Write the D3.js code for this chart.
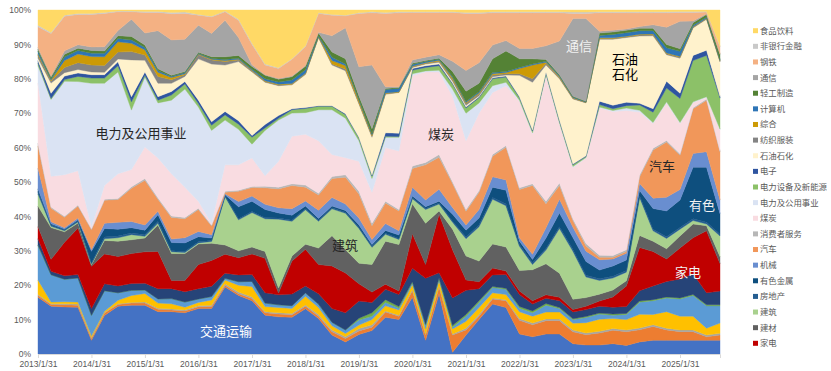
<!DOCTYPE html>
<html><head><meta charset="utf-8">
<script src="https://cdn.jsdelivr.net/npm/d3@7"></script>
<style>
body{margin:0;background:#fff;}
svg{display:block;font-family:"Liberation Sans","Noto Sans CJK SC",sans-serif;}
</style>
</head><body>
<svg id="chart" width="831" height="371"></svg>
<script>
// ---------------- DATA ----------------
const dates = [
"2013-01-31","2013-04-30","2013-07-31","2013-10-31","2014-01-31","2014-04-30","2014-07-31","2014-10-31",
"2015-01-31","2015-04-30","2015-07-31","2015-10-31","2016-01-31","2016-04-30","2016-07-31","2016-10-31",
"2017-01-31","2017-04-30","2017-07-31","2017-10-31","2018-01-31","2018-04-30","2018-07-31","2018-10-31",
"2019-01-31","2019-04-30","2019-07-31","2019-10-31","2020-01-31","2020-04-30","2020-07-31","2020-10-31",
"2021-01-31","2021-04-30","2021-07-31","2021-10-31","2022-01-31","2022-04-30","2022-07-31","2022-10-31",
"2023-01-31","2023-04-30","2023-07-31","2023-10-31","2024-01-31","2024-04-30","2024-07-31","2024-10-31",
"2025-01-31","2025-04-30","2025-07-31","2025-10-31"];

const xTickDates = ["2013-01-31","2014-01-31","2015-01-31","2016-01-31","2017-01-31","2018-01-31","2019-01-31",
"2020-01-31","2021-01-31","2022-01-31","2023-01-31","2024-01-31","2025-01-31"];
const xTickLabels = ["2013/1/31","2014/1/31","2015/1/31","2016/1/31","2017/1/31","2018/1/31","2019/1/31",
"2020/1/31","2021/1/31","2022/1/31","2023/1/31","2024/1/31","2025/1/31"];
const yTicks = [0,0.1,0.2,0.3,0.4,0.5,0.6,0.7,0.8,0.9,1];

// series, bottom of the stack first (values in %)
const transport = [16.5,14,13.6,13.6,4,11.2,14,14.2,14.2,12.3,12.3,12,13.2,13.2,19.5,17,15.5,11.3,10.8,10.8,13.2,10.3,5.5,3.5,5.7,6.8,10.7,10,16.5,4,17.5,0.5,5.5,10,14.5,13.5,5.8,5,5.8,5.8,3,2.6,2.6,3,2.5,3.5,4,4,4,4,4,4];
const agri = [0.5,0.5,0.6,0.6,0.5,0.7,0.5,0.6,0.6,0.7,0.5,0.5,0.5,0.6,0.5,0.5,0.6,0.7,0.8,0.7,0.7,0.7,1,1,1,1,1.5,1,1.9,1.5,2,5,1.5,1,1.5,2,4,3.5,3.9,3.9,3.5,3,3.5,3.9,4,3.5,4,3,2.5,2.5,1,1.5];
const pharma = [0.3,0.2,0.3,0.3,0.3,0.2,0.2,0.2,0.3,0.3,0.3,0.3,0.3,0.4,0.4,0.5,0.5,0.3,0.4,0.4,0.4,0.5,0.5,0.5,0.7,0.7,0.3,0.3,0.3,0.3,0.3,0.3,0.5,0.5,0.3,0.3,0.5,0.5,0.5,0.5,0.5,0.5,0.5,0.5,0.5,0.5,0.5,0.5,0.5,0.5,0.5,0.5];
const bank = [4.2,0.5,0.6,0.6,0.5,0.3,1,2,2.5,1.5,1.5,0.8,1,1.5,1.1,2,3,1.5,1.5,1.5,2.5,2,1.2,1,1,1.5,1.5,1.5,1.5,1.5,1.5,1.5,2,2,1.5,1.5,2,2,2,2,2,3,3.5,2.9,3,4,3,4.8,4,4,2,3];
const chem = [10,8,6.5,7,6,6,2.2,1.5,1,1.2,1.5,1.5,1,1,0.5,1,1.5,1,0.8,0.8,1,1,1,1,1.5,1,1,0.5,0.5,1,0.5,0.5,1.5,1.5,1.5,1.5,1,1,2,1,1,1.5,1.5,1,1.5,3.5,4,4,5,6,6.5,5];
const media = [0.2,0,0,0,0,0,0,0,0,0,0,0,0,0,0,0,0,0,0,0,0,0,0,0,0.5,1,0.8,0.5,0.3,0.3,0.3,0.5,0.5,0.5,0.3,0.3,0.5,0.5,0.5,0.3,0.3,0.3,0.3,0.3,0.3,0.3,0.3,0.3,0.3,0.3,0.3,0.3];
const defense = [1.8,1,1,1,2,2,2,2,2,3,2.9,3,3,3,1.5,2,2,3,2.9,3.4,2,3,4,5,5,3,3,3.5,3.9,13.4,1.5,8,7,3.5,3.4,4,3.5,2,1.5,2,2,2,2,2,2,3,4,4.5,5.5,6,3.5,4];
const appliance = [3.5,3.5,9.7,13.5,12.3,8.7,8.6,8.7,9.1,10.8,2.4,3.3,7,7.5,5.5,5,6,10,0.5,9.7,10.7,8.5,12.4,11.6,5,3,1.5,1,10,4,17,14,3,2,2,1,1,1,1,1,0.7,1,1.5,3,6,12.5,10,6.5,9,10.5,18,8];
const buildMat = [6,9.3,3,1.5,0.5,3.9,4.5,4,4,7.7,7.8,7.8,6,5,2.7,2,2,2,1.5,1.5,1.5,4.8,8.8,6.8,6,8,12.5,13.5,8.7,12,1,6,7,6,7,7,6,9,9,7,3,2.5,2,2,1.5,3.5,3,3,3.5,4,1.5,2];
const construction = [3.5,0.4,0.3,0.3,0.2,0.5,1,1.5,0.5,0.5,0.5,0.3,0.3,0.5,14,9,10,9.5,20,10.2,10,7.8,7.8,10.6,10.1,5,2,1.5,1.5,4,2,2,5,10,13,12,7,1.5,4,13,14,6,4,3.5,2.5,11,3,3,2,1,0.5,6];
const realEstate = [0.7,0.4,0.3,0.3,0.3,0.5,0.5,0.5,0.5,0.5,0.3,0.3,0.3,0.3,0.3,0.3,0.3,0.3,0.3,0.3,0.3,0.3,0.3,0.3,0.3,0.3,0.3,0.3,0.3,0.3,0.3,0.3,0.5,0.5,0.5,0.5,0.5,0.5,0.5,0.5,0.5,0.5,0.5,0.5,0.5,0.5,0.5,0.5,0.5,0.5,0.5,0.5];
const nonFerrous = [0.8,0.3,0.2,0.3,3.4,2.5,2,1.5,1.3,2,2.4,2.5,1.5,0.7,0.3,3.5,3,2.4,1.5,1.5,0.8,0.5,0.5,0.5,0.7,0.5,0.8,1,0.5,0.5,0.5,2,2,2,3,4,1,1,3,4,3.5,4,2.5,3,3,1.5,6,7.5,8,15,16,6];
const machinery = [6,0.6,0.4,0.5,0.5,1.5,2,1.8,1.5,1,1,1.5,1.5,1,0.3,1.5,1.5,1.5,1.5,1.9,1.5,2.4,2.5,1.9,2,1.5,2,1.2,2.5,2,3.5,2,1.5,2.5,3,3,1,1.5,3,4,3,3,3,2,2,2,3,4,3,4,4.5,4];
const auto = [6.5,4,3,3.5,5.8,6.7,6.7,9.7,13,3.5,6.3,5.5,6.4,2.5,0.4,3,2.5,4.8,5.5,6.8,4,4.4,5.5,7.8,7,4,6,5.8,5.5,10.2,9.3,7,4,5,6,9.5,14,20,7,4,2,1.5,0.7,0.5,0.5,2,14,16,10,13,15,14];
const consumer = [0.8,0.3,0.3,0.3,0.3,0.3,0.3,0.4,0.5,0.4,0.4,0.4,0.4,0.3,0.3,0.3,0.3,0.5,0.5,0.5,0.6,0.5,0.6,0.7,0.8,0.7,0.5,0.4,0.7,0.7,0.8,0.5,0.5,0.5,0.5,0.5,0.5,0.5,0.7,0.7,0.5,0.7,0.6,0.5,0.5,0.5,0.5,0.5,0.4,0.3,0.3,0.3];
const coal = [17.5,9,12,10,0.5,4,7.2,5,9.2,11.6,12.3,8.8,2,0.5,7.7,7.4,8.3,3,7.5,14,14.8,15.3,6.4,5,8.7,9,15.6,17,26.3,26.3,24,24.9,20,22.5,18,17.4,25.2,14.5,36.6,17.3,15,24.9,42.8,41.9,40.5,18.2,7.2,10.9,8.8,1.5,0.5,6];
const utilities = [5,22.5,27,25.9,42,29.7,29.8,17.3,20.3,16,21.4,28.5,27.4,27,13,10.3,4,13.2,12,6.8,6.3,9,13,11.5,6,4,3,4,0.5,0.3,0.5,2,8,3,2,1,0.3,0.3,0.2,0.2,0.3,0.1,0.3,0.3,0.7,0.5,0.3,0.3,0.3,0.2,0.2,0.3];
const powerEquip = [0.7,0.3,0.5,1.5,1.5,1.5,1.8,2.4,0.5,0.8,1.5,1.5,1,1.5,1.5,1.5,2,0.7,0.5,1,1.2,1,1,1,0.8,0.7,0.3,0.2,1,1,1.3,1.5,1.5,1.5,2,1.5,0.7,0.5,0.5,0.5,0.5,0.3,0.7,0.5,0.7,1.5,3,4,7,12,12,9];
const electronics = [0.8,1.5,1,1,1,1,1.2,1.5,1,1,1,0.7,1,1,1,1,0.5,1,0.8,0.3,0.3,0.2,0.2,0.3,0.2,0.3,1,1,0.5,0.5,0.5,0.3,0.3,0.3,0.3,0.3,0.3,0.3,0.3,0.3,0.2,0.2,1,1,1,0.5,1,2,1.5,1.5,1.5,0.5];
const petro = [0.7,3,1,1,0.8,0.7,0.8,10.7,3.4,3.9,2.4,1.5,12,16.8,13.5,17.2,18.5,12.3,8.7,7,9.6,19.8,11.8,12.5,9.7,11,11.2,11.8,0.3,0.5,0.5,0.5,0.5,0.3,0.3,0.3,6.2,13.9,2,12,19,15.4,18,19.2,18.8,19.5,21.2,7.7,10.2,8,9,10];
const textile = [0.8,0.6,1.5,2,2,2,2,2.4,1.5,2,1,0.5,1.2,1.2,1,0.5,0.3,0.2,0.2,0.2,0.2,0.1,0.3,0.5,0.3,0.4,0.2,0.1,0.2,0.2,0.3,0.5,0.5,0.5,0.5,0.4,0.5,1,0.5,0.3,0.2,0.1,0.2,0.2,0.2,0.3,0.3,0.3,0.3,0.2,0.2,0.3];
const conglomerate = [0.4,0.3,2,2.5,2.5,2.5,3,2.4,1.5,1.2,0.7,0.3,0.2,0.2,0.3,0.2,0.2,0.2,0.2,0.2,0.2,0.1,1,1,0.7,0.3,0.2,0.1,0.2,0.2,0.3,0.5,0.3,0.3,0.4,0.3,1.5,4,0.3,0.3,0.2,0.1,0.2,0.2,0.2,0.2,0.2,0.2,0.2,0.1,0.1,0.1];
const computer = [0.8,0.3,1,1,1,1,1,1,0.7,0.5,0.3,0.3,0.2,0.2,0.3,0.3,0.3,0.6,0.7,1,1,0.3,1,0.5,0.3,0.3,1,1,0.5,0.3,0.3,0.3,0.3,0.3,0.3,0.3,0.3,0.3,0.3,0.3,0.2,0.1,0.7,1,1,1,1,1.5,1.5,0.5,0.3,0.3];
const lightMfg = [0.6,0.6,0.8,0.7,0.8,0.7,0.8,1,0.7,0.5,0.3,0.3,0.3,0.5,0.8,0.8,0.8,1,0.8,1,1,0.8,1.5,1.5,1,1.5,0.3,0.3,0.3,0.3,0.3,1.5,3,2.5,4,6,2.5,1.5,0.5,0.3,0.2,0.2,0.7,0.7,0.7,0.7,0.7,1,0.7,0.7,0.8,1.5];
const telecom = [0.5,0.3,1,1,1,1.2,1.5,5,3.5,11.1,10.3,9.4,7.9,6.8,10.6,5.2,0.5,0.2,0.2,0.2,0.2,0.2,4.7,9,8.5,18.5,0.5,0.2,1,1,1,3,6,6,4,3,3,3,4,9.8,22.7,24,0.5,0.5,0.4,0.5,1,5,8,0.5,0.2,0.2];
const steel = [6,12.4,10,8.8,9.5,9.7,5.5,2.2,6,5.3,7.6,7.5,2.9,4.8,2.5,5,5.9,2.8,2.9,4.9,5.5,5.5,6,3.5,15.5,15.2,21.3,21.5,13.8,13,12.3,14.2,16.6,14.3,9.4,8.1,10.4,10.4,9.6,8.2,1.5,1.5,5.4,5.1,4.7,4,3.5,4.2,2.6,2.5,0.5,2];
const nonBank = [0.5,0.3,0.3,0.3,0.3,0.3,0.2,0.2,0.3,0.3,0.4,0.4,0.2,0.2,0.2,0.3,0.3,0.3,0.2,0.2,0.2,0.2,0.2,0.2,0.2,0.3,0.3,0.3,0.2,0.2,0.2,0.2,0.3,0.3,0.3,0.3,0.3,0.3,0.3,0.3,0.4,0.4,0.3,0.3,0.3,0.3,0.3,0.3,0.3,0.3,0.2,0.2];
const foodBev = [4.4,6.6,1.5,1,1,0.7,0.3,0.3,0.4,0.4,0.7,0.6,1.3,1.8,0.3,2.7,9.7,15.7,16.8,14.3,10.5,0.8,1.3,1.5,0.8,0.5,0.7,0.5,0.5,0.5,0.5,0.5,0.7,0.7,0.5,0.5,0.5,0.5,0.5,0.5,0.6,0.6,0.5,0.5,0.5,0.5,0.5,0.5,0.4,0.4,0.4,10.5];

const seriesNames = ["交通运输","农林牧渔","医药","银行","基础化工","传媒","国防军工","家电","建材","建筑","房地产","有色金属","机械","汽车","消费者服务","煤炭","电力及公用事业","电力设备及新能源","电子","石油石化","纺织服装","综合","计算机","轻工制造","通信","钢铁","非银行金融","食品饮料"];
const seriesValues = [transport,agri,pharma,bank,chem,media,defense,appliance,buildMat,construction,realEstate,nonFerrous,machinery,auto,consumer,coal,utilities,powerEquip,electronics,petro,textile,conglomerate,computer,lightMfg,telecom,steel,nonBank,foodBev];
// series shown in the legend (top of legend = top of stack)
const legendNames = ["食品饮料","非银行金融","钢铁","通信","轻工制造","计算机","综合","纺织服装","石油石化","电子","电力设备及新能源","电力及公用事业","煤炭","消费者服务","汽车","机械","有色金属","房地产","建筑","建材","家电"];

// ---------------- STYLE ----------------
const colors = {
 "交通运输":"#4472C4","农林牧渔":"#ED7D31","医药":"#A5A5A5","银行":"#FFC000","基础化工":"#5B9BD5","传媒":"#70AD47",
 "国防军工":"#264478","家电":"#C00000","建材":"#616161","建筑":"#A9D18E","房地产":"#255E91","有色金属":"#0E4F7E",
 "机械":"#698ED0","汽车":"#F1975A","消费者服务":"#B7B7B7","煤炭":"#F9DCE1","电力及公用事业":"#DAE3F3",
 "电力设备及新能源":"#8CC168","电子":"#2F55A0","石油石化":"#FFF2CC","纺织服装":"#848484","综合":"#CC9A06",
 "计算机":"#2E75B6","轻工制造":"#548235","通信":"#A5A5A5","钢铁":"#F4B183","非银行金融":"#C9C9C9","食品饮料":"#FFD966"
};

const parse = d3.utcParse("%Y-%m-%d");
const table = dates.map((d,i)=>{
  const row = {date: parse(d)};
  seriesNames.forEach((n,k)=>{ row[n] = seriesValues[k][i]; });
  return row;
});

const svg = d3.select("#chart");
const x = d3.scaleUtc().domain([parse(dates[0]), parse(dates[dates.length-1])]).range([38,720]);
const y = d3.scaleLinear().domain([0,1]).range([354,10]);

const stack = d3.stack().keys(seriesNames).offset(d3.stackOffsetExpand);
const layers = stack(table);
const area = d3.area().x(d=>x(d.data.date)).y0(d=>y(d[0])).y1(d=>y(d[1]));

svg.append("g").selectAll("path").data(layers).join("path")
  .attr("d", area)
  .attr("fill", d=>colors[d.key])
  .attr("stroke", d=>colors[d.key])
  .attr("stroke-width", 0.4);

// x axis
const xAxis = d3.axisBottom(x)
  .tickValues(xTickDates.map(parse))
  .tickFormat((d,i)=>xTickLabels[i])
  .tickSize(4).tickPadding(3);
const gx = svg.append("g").attr("transform","translate(0,354)").call(xAxis);
gx.select(".domain").attr("stroke","#d9d9d9");
gx.selectAll(".tick line").attr("stroke","#d9d9d9");
gx.selectAll("text").attr("fill","#595959").style("font-size","8.5px");

// y axis
const yAxis = d3.axisLeft(y).tickValues(yTicks).tickFormat(d3.format(".0%")).tickSize(0).tickPadding(7);
const gy = svg.append("g").attr("transform","translate(38,0)").call(yAxis);
gy.select(".domain").remove();
gy.selectAll("text").attr("fill","#595959").style("font-size","8.5px");

// in-chart labels (each label may have several lines)
const labels = [
 {t:["电力及公用事业"], x:141, y:133, c:"#262626"},
 {t:["建筑"], x:345, y:245, c:"#262626"},
 {t:["交通运输"], x:226, y:331, c:"#ffffff"},
 {t:["煤炭"], x:441, y:134, c:"#262626"},
 {t:["通信"], x:579, y:46, c:"#f2f2f2"},
 {t:["石油","石化"], x:625, y:59, c:"#000000"},
 {t:["汽车"], x:662, y:166, c:"#262626"},
 {t:["有色"], x:702, y:205, c:"#f2f2f2"},
 {t:["家电"], x:688, y:272, c:"#f2f2f2"}
];
const lt = svg.append("g").selectAll("text").data(labels).join("text")
  .attr("x",d=>d.x).attr("y",d=>d.y)
  .attr("text-anchor","middle").attr("fill",d=>d.c)
  .style("font-family","'Noto Sans CJK SC',sans-serif").style("font-size","13px");
lt.selectAll("tspan").data(d=>d.t.map(s=>({s, x:d.x}))).join("tspan")
  .attr("x",d=>d.x).attr("dy",(d,i)=> i===0 ? "0.35em" : "15px").text(d=>d.s);

// legend
const lg = svg.append("g").attr("transform","translate(753,0)");
const items = lg.selectAll("g").data(legendNames).join("g")
  .attr("transform",(d,i)=>`translate(0,${30.7 + i*15.63})`);
items.append("rect").attr("x",0).attr("y",-2.5).attr("width",5).attr("height",5).attr("fill",d=>colors[d]);
items.append("text").attr("x",7).attr("y",0).attr("dy","0.35em")
  .attr("fill","#595959").style("font-family","'Noto Sans CJK SC',sans-serif").style("font-size","8.4px")
  .text(d=>d);
</script>
</body></html>
